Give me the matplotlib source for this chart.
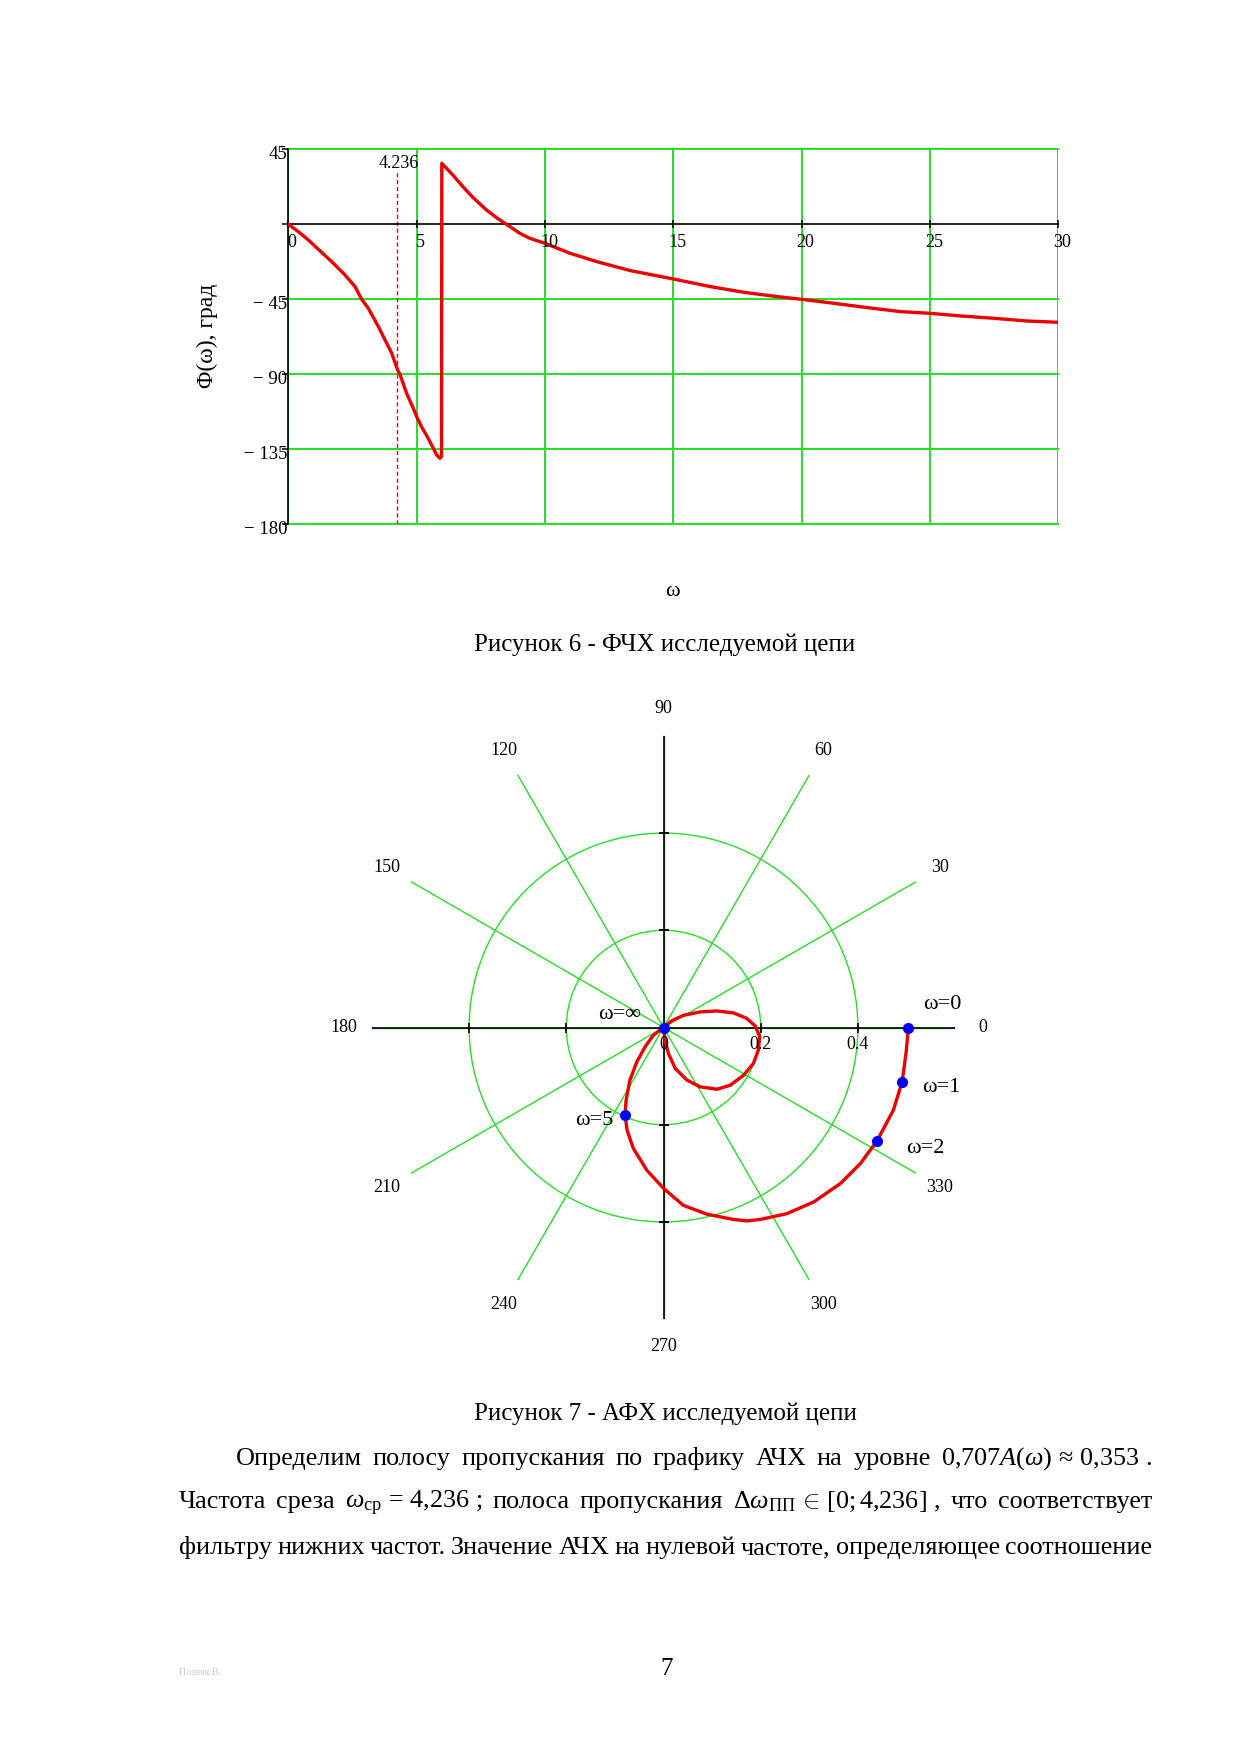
import numpy as np
import matplotlib
matplotlib.use('Agg')
import matplotlib.pyplot as plt
from matplotlib.transforms import ScaledTranslation, blended_transform_factory

# ФЧХ: значения
omega = [0, 0.39, 0.78, 1.17, 1.69, 2.21, 2.60, 2.86, 3.12, 3.51, 3.77, 4.03, 4.26, 4.35, 4.61,
         4.87, 5.0, 5.19, 5.45, 5.65, 5.78, 5.91, 5.97,
         5.98, 6.41, 6.80, 7.19, 7.72, 8.11, 8.5, 9.02, 9.41, 10, 10.98, 12.02, 13.33, 15, 16.45,
         17.75, 19.05, 20, 21.26, 22.56, 23.86, 25, 26.2, 27.5, 28.77, 30]
phase_deg = [0, -4.4, -9.4, -15, -22.4, -30.4, -37.4, -45, -50.4, -61.4, -69.4, -77.4, -87.4, -90,
             -101.4, -110.4, -115.4, -121.4, -128.4, -134.4, -138.4, -140.4, -139.4,
             36.6, 29.6, 22.6, 16.2, 8.6, 4.0, 0, -5.4, -8.4, -11.4, -17.4, -22.4, -27.8, -32.8,
             -37.4, -40.8, -43.4, -45, -47.4, -50, -52.4, -53.4, -55, -56.4, -58, -58.8]
cutoff = 4.236
x_ticks = [0, 5, 10, 15, 20, 25, 30]
y_ticks = [45, 0, -45, -90, -135, -180]
y_labels = ['45', '', '\u2212 45', '\u2212 90', '\u2212 135', '\u2212 180']

# АФХ (годограф): Re и Im
hodo_re = [0.504, 0.499, 0.491, 0.473, 0.439, 0.405, 0.364, 0.309, 0.254, 0.199, 0.172, 0.144,
           0.089, 0.041, 0.0, -0.034, -0.062, -0.075, -0.079, -0.077, -0.069, -0.055, -0.038,
           -0.021, 0.0,
           0.017, 0.041, 0.075, 0.110, 0.144, 0.171, 0.189, 0.198, 0.195, 0.185, 0.165, 0.137,
           0.110, 0.075, 0.048, 0.024, 0.010, 0.003, 0.0]
hodo_im = [0.0, -0.053, -0.112, -0.170, -0.234, -0.280, -0.321, -0.359, -0.383, -0.395, -0.398,
           -0.395, -0.384, -0.366, -0.331, -0.294, -0.249, -0.211, -0.180, -0.150, -0.108, -0.071,
           -0.040, -0.016, 0.0,
           0.014, 0.025, 0.032, 0.034, 0.030, 0.019, 0.003, -0.019, -0.047, -0.074, -0.098, -0.119,
           -0.127, -0.122, -0.108, -0.084, -0.053, -0.026, 0.0]
pt_labels = ['\u03c9=0', '\u03c9=1', '\u03c9=2', '\u03c9=5', '\u03c9=\u221e']
pt_re = [0.504, 0.491, 0.439, -0.079, 0.0]
pt_im = [0.0, -0.112, -0.234, -0.180, 0.0]
pt_offsets = [(34, 23), (39, -6), (48, -7), (-31, -6), (-44, 13)]
angle_ticks = list(range(0, 360, 30))
r_ticks = [0.2, 0.4]

RED = '#ee0000'
GREEN = '#22e022'
BLUE = '#0000ff'
SERIF = ['Liberation Serif', 'DejaVu Serif']

plt.rcParams['font.family'] = SERIF
plt.rcParams['mathtext.fontset'] = 'custom'
plt.rcParams['mathtext.rm'] = 'Liberation Serif'
plt.rcParams['mathtext.it'] = 'Liberation Serif:italic'
plt.rcParams['mathtext.bf'] = 'Liberation Serif:bold'

W, H = 1241, 1754
fig = plt.figure(figsize=(W / 100, H / 100), dpi=100)


def shift(dx, dy):
    return ScaledTranslation(dx / 100, dy / 100, fig.dpi_scale_trans)


# --- Рисунок 6: ФЧХ ---
ax1 = fig.add_axes([288.3 / W, 1 - 524.3 / H, 770 / W, 375 / H])
ax1.plot(omega, phase_deg, color=RED, lw=2.4, zorder=3)
ax1.vlines(cutoff, -180, 32, colors=RED, lw=1, linestyles=(0, (3, 2)), zorder=2)
ax1.set_xlim(0, 30)
ax1.set_ylim(-180, 45)
ax1.set_xticks(x_ticks)
ax1.set_yticks(y_ticks)
ax1.set_xticklabels([])
ax1.set_yticklabels([])
ax1.grid(True, color=GREEN, lw=1.4)
for gl in ax1.get_xgridlines() + ax1.get_ygridlines():
    gl.set_clip_on(False)
ax1.get_xgridlines()[0].set_visible(False)
ax1.get_ygridlines()[1].set_visible(False)
ax1.spines['bottom'].set_position(('data', 0))
for s in ['top', 'right']:
    ax1.spines[s].set_visible(False)
for s in ['bottom', 'left']:
    ax1.spines[s].set_color('k')
    ax1.spines[s].set_linewidth(1.2)
    ax1.spines[s].set_zorder(2.5)
ax1.tick_params(axis='x', direction='inout', length=6, width=1.1)
ax1.tick_params(axis='y', direction='out', length=4, width=1.1)

for t in x_ticks:
    ax1.text(t, 0, str(t), transform=ax1.transData + shift(4, -22.5),
             ha='center', va='baseline', fontsize=13)
for v, lab in zip(y_ticks, y_labels):
    if lab:
        ax1.text(0, v, lab, transform=ax1.transData + shift(-1, -10),
                 ha='right', va='baseline', fontsize=13.5)
ax1.text(cutoff, 0.963, '4.236', transform=blended_transform_factory(ax1.transData, ax1.transAxes) + shift(2, 0),
         ha='center', va='center', fontsize=13)

fig.text(207 / W, 1 - 336 / H, '\u03a6(\u03c9), град', rotation=90, ha='center', va='center', fontsize=17)
fig.text(672 / W, 1 - 592 / H, '\u03c9', ha='center', va='center', fontsize=16)
fig.text(665 / W, 1 - 650.7 / H, 'Рисунок 6 - ФЧХ исследуемой цепи', ha='center', va='baseline', fontsize=18)

# --- Рисунок 7: АФХ ---
cx, cy, rad_px = 663.5, 1027.5, 291.6
ax2 = fig.add_axes([(cx - rad_px) / W, 1 - (cy + rad_px) / H, 2 * rad_px / W, 2 * rad_px / H],
                   projection='polar')
theta = np.arctan2(hodo_im, hodo_re)
rr = np.hypot(hodo_re, hodo_im)
for a in [0, 90, 180, 270]:
    ax2.plot([np.deg2rad(a)] * 2, [0, 0.6], color='k', lw=1.2, zorder=2)
for a, m in [(0, '|'), (180, '|'), (90, '_'), (270, '_')]:
    ax2.plot([np.deg2rad(a)] * len(r_ticks), r_ticks, ls='', marker=m, ms=7, mew=1.2,
             color='k', zorder=2)
ax2.plot(theta, rr, color=RED, lw=2.4, zorder=3, solid_joinstyle='round')
pt_theta = np.arctan2(pt_im, pt_re)
pt_r = np.hypot(pt_re, pt_im)
ax2.plot(pt_theta, pt_r, ls='', marker='o', ms=7, color=BLUE, zorder=4)
for lab, th, r, off in zip(pt_labels, pt_theta, pt_r, pt_offsets):
    ax2.annotate(lab, xy=(th, r), xytext=off, textcoords='offset pixels',
                 ha='center', va='center', fontsize=16)

ax2.set_ylim(0, 0.6)
ax2.set_yticks(r_ticks)
ax2.set_yticklabels([])
ax2.set_xticks(np.deg2rad(angle_ticks))
ax2.set_xticklabels([])
ax2.tick_params(length=0)
ax2.grid(True, color=GREEN, lw=1.0)
ax2.spines['polar'].set_visible(False)
for a in angle_ticks:
    ax2.text(np.deg2rad(a), 0.657, str(a), ha='center', va='center', fontsize=13, clip_on=False)
for r, lab in zip([0] + r_ticks, ['0', '0.2', '0.4']):
    ax2.text(0, r, lab, transform=ax2.transData + shift(0, -17), ha='center', va='center', fontsize=13)

fig.text(665 / W, 1 - 1420 / H, 'Рисунок 7 - АФХ исследуемой цепи', ha='center', va='baseline', fontsize=18)

# --- текст страницы (выравнивание по ширине) ---
body_lines = [
    (236, 1465, ['Определим', 'полосу', 'пропускания', 'по', 'графику', 'АЧХ', 'на', 'уровне',
                 r'$0{,}707A(\omega)\,\approx\,0{,}353$ .']),
    (179, 1508, ['Частота', 'среза', r'$\omega_{\mathrm{ср}}\,=\,4{,}236$ ;', 'полоса', 'пропускания',
                 r'$\Delta\omega_{\mathrm{ПП}}\,\in\,[0;4{,}236]$ ,', 'что', 'соответствует']),
    (179, 1554, ['фильтру', 'нижних', 'частот.', 'Значение', 'АЧХ', 'на', 'нулевой', 'частоте,',
                 'определяющее', 'соотношение']),
]
x_right = 1152
renderer = fig.canvas.get_renderer()
for x_left, y_base, words in body_lines:
    items = [fig.text(0, 1 - y_base / H, w, fontsize=18.8, ha='left', va='baseline') for w in words]
    widths = [t.get_window_extent(renderer).width for t in items]
    gap = (x_right - x_left - sum(widths)) / (len(items) - 1)
    x = x_left
    for t, w in zip(items, widths):
        t.set_x(x / W)
        x += w + gap

fig.text(667 / W, 1 - 1675 / H, '7', ha='center', va='baseline', fontsize=18)
fig.text(179 / W, 1 - 1675 / H, 'Позняк В.', ha='left', va='baseline', fontsize=7, color='#c8c8c8')

fig.savefig('out.png', dpi=100)
